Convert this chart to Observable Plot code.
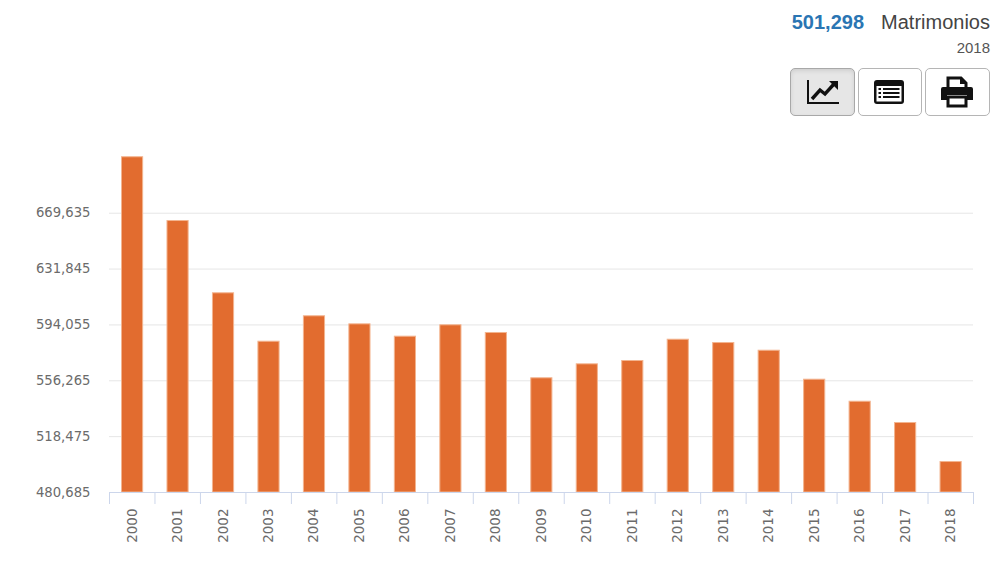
<!DOCTYPE html>
<html>
<head>
<meta charset="utf-8">
<script src="https://cdn.jsdelivr.net/npm/d3@7"></script>
<script src="https://cdn.jsdelivr.net/npm/@observablehq/plot@0.6"></script>
<style>
html,body{margin:0;padding:0;background:#fff;overflow:hidden}
#page{position:relative;width:1000px;height:563px}
#page svg.plot{position:absolute;left:0;top:0}
.hd{position:absolute;font-family:"Liberation Sans",Arial,sans-serif;white-space:nowrap}
.btn{position:absolute;top:68px;height:46px;box-sizing:content-box;border:1px solid #b5b5b5;border-radius:5px;background:#fff;display:flex;align-items:center;justify-content:center}
.btn.on{background:#e6e6e6;border-color:#a8a8a8;box-shadow:inset 0 2px 4px rgba(0,0,0,.1)}
</style>
</head>
<body>
<div id="page">
  <div id="chart"></div>
  <div class="hd" style="right:136px;top:10px;font-size:20px;line-height:24px;font-weight:bold;color:#2a75b3">501,298</div>
  <div class="hd" style="right:10px;top:10px;font-size:20px;line-height:24px;color:#444">Matrimonios</div>
  <div class="hd" style="right:10px;top:40px;font-size:15px;line-height:16px;color:#555">2018</div>
  <div class="btn on" style="left:790px;width:63px">
    <svg width="34" height="28" viewBox="0 0 34 28"><path d="M2 2V25H33" fill="none" stroke="#111" stroke-width="2"/><path d="M6 21L14 12L19 16L28 6" fill="none" stroke="#111" stroke-width="3.4"/><path d="M23 3H32V12Z" fill="#111"/></svg>
  </div>
  <div class="btn" style="left:858px;width:60px;padding-right:2px">
    <svg width="32" height="26" viewBox="0 0 32 26"><rect x="1" y="1" width="30" height="24" rx="3" fill="#111"/><rect x="3.5" y="7" width="25" height="15.5" fill="#fff"/><path d="M5.5 10H8M5.5 14H8M5.5 18H8M10 10H26.5M10 14H26.5M10 18H26.5" stroke="#111" stroke-width="2"/></svg>
  </div>
  <div class="btn" style="left:925px;width:61px;padding-right:2px">
    <svg width="34" height="32" viewBox="0 0 34 32"><path d="M8 2H21L26 7V13H8Z" fill="#fff" stroke="#111" stroke-width="3"/><path d="M20 1V8H27Z" fill="#111"/><path d="M3 11H31Q33 11 33 13V24H27V19H7V24H1V13Q1 11 3 11Z" fill="#111"/><path d="M8 21H26V30H8Z" fill="#fff" stroke="#111" stroke-width="3"/></svg>
  </div>
</div>
<script>
const years = [2000,2001,2002,2003,2004,2005,2006,2007,2008,2009,2010,2011,2012,2013,2014,2015,2016,2017,2018];
const marriages = [707500,664350,615450,582700,599900,594450,586100,593800,588600,557950,567400,569650,584050,581800,576600,557000,542100,527700,501298];
const yTicks = [480685,518475,556265,594055,631845,669635];
const xEdges = [...years, 2019];
const rows = years.map((year,i)=>({year, value: marriages[i]}));
const axisColor = "#ccd6eb";
const font = '"DejaVu Sans",Verdana,sans-serif';

const plot = Plot.plot({
  width: 1000, height: 563,
  marginLeft: 109, marginRight: 27, marginTop: 101, marginBottom: 71,
  style: {fontFamily: font, background: "transparent"},
  x: {domain: [2000, 2019], label: null, axis: null},
  y: {domain: [480685, 745215], label: null, axis: null},
  marks: [
    Plot.gridY(yTicks.slice(1), {stroke: "#e6e6e6", strokeOpacity: 1}),
    Plot.axisY({ticks: yTicks, tickSize: 0, tickPadding: 19, tickFormat: d3.format(","), fontSize: 13.2, color: "#6b6b6b", label: null}),
    Plot.rectY(rows, {x1: d => d.year + 0.275, x2: d => d.year + 0.74, y1: 480685, y2: "value", fill: "#e26c2f", stroke: "#f3b48f", strokeWidth: 1}),
    Plot.ruleY([480685], {stroke: axisColor, strokeWidth: 1}),
    Plot.axisX({ticks: xEdges, tickSize: 12, tickFormat: () => "", stroke: axisColor, strokeOpacity: 1, label: null}),
    Plot.text(years, {x: d => d + 0.5, frameAnchor: "bottom", lineAnchor: "middle", dy: 16, rotate: -90, textAnchor: "end", text: d => String(d), fontSize: 13.5, fill: "#6b6b6b"})
  ]
});
plot.classList.add("plot");
document.getElementById("chart").appendChild(plot);
</script>
</body>
</html>
